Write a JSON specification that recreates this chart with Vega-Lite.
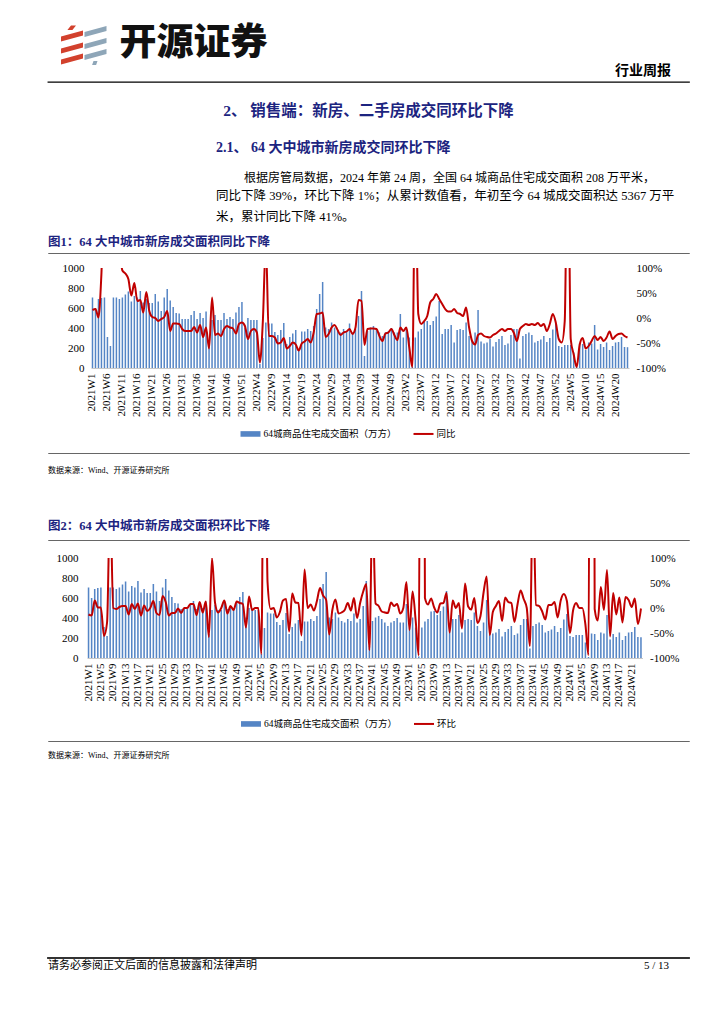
{
"$schema":"https://vega.github.io/schema/vega-lite/v6.json",
"background":"white",
"padding":{"left":47,"top":22,"right":10,"bottom":10},
"spacing":0,
"resolve":{"scale":{"color":"independent","shape":"independent"},"legend":{"color":"independent","shape":"independent"}},
"config":{"view":{"stroke":null},"font":"Liberation Serif, Noto Sans CJK SC",
"axis":{"labelFont":"Liberation Serif, Noto Sans CJK SC","labelFontSize":11,"labelColor":"#000","ticks":false,"grid":false,"title":null,"domain":false},
"title":{"baseline":"alphabetic","anchor":"start","frame":"group"}},
"datasets":{"d":[
{"w":"2021W1","a":705,"y":16,"m":-13},{"w":"2021W2","a":600,"y":18,"m":-15},{"w":"2021W3","a":690,"y":1,"m":15},{"w":"2021W4","a":700,"y":90,"m":1},{"w":"2021W5","a":705,"y":250,"m":1},{"w":"2021W6","a":310,"y":350,"m":-56},{"w":"2021W7","a":220,"y":400,"m":-29},{"w":"2021W8","a":705,"y":300,"m":220},{"w":"2021W9","a":705,"y":250,"m":0},{"w":"2021W10","a":690,"y":150,"m":-2},
{"w":"2021W11","a":705,"y":95,"m":2},{"w":"2021W12","a":735,"y":89,"m":4},{"w":"2021W13","a":765,"y":78,"m":4},{"w":"2021W14","a":665,"y":45,"m":-13},{"w":"2021W15","a":720,"y":70,"m":8},{"w":"2021W16","a":705,"y":34,"m":-2},{"w":"2021W17","a":770,"y":36,"m":9},{"w":"2021W18","a":655,"y":11,"m":-15},{"w":"2021W19","a":690,"y":52,"m":5},{"w":"2021W20","a":650,"y":14,"m":-6},
{"w":"2021W21","a":650,"y":2,"m":0},{"w":"2021W22","a":740,"y":0,"m":14},{"w":"2021W23","a":665,"y":-6,"m":-10},{"w":"2021W24","a":570,"y":-2,"m":-14},{"w":"2021W25","a":705,"y":2,"m":24},{"w":"2021W26","a":790,"y":14,"m":12},{"w":"2021W27","a":675,"y":-26,"m":-15},{"w":"2021W28","a":610,"y":-11,"m":-10},{"w":"2021W29","a":550,"y":-11,"m":-10},{"w":"2021W30","a":545,"y":-12,"m":-1},
{"w":"2021W31","a":490,"y":-22,"m":-10},{"w":"2021W32","a":490,"y":-26,"m":0},{"w":"2021W33","a":490,"y":-26,"m":0},{"w":"2021W34","a":530,"y":-26,"m":8},{"w":"2021W35","a":570,"y":-18,"m":8},{"w":"2021W36","a":490,"y":-29,"m":-14},{"w":"2021W37","a":550,"y":-14,"m":12},{"w":"2021W38","a":500,"y":-38,"m":-9},{"w":"2021W39","a":565,"y":-19,"m":13},{"w":"2021W40","a":240,"y":-61,"m":-58},
{"w":"2021W41","a":480,"y":41,"m":100},{"w":"2021W42","a":530,"y":-34,"m":10},{"w":"2021W43","a":480,"y":-31,"m":-9},{"w":"2021W44","a":480,"y":-36,"m":0},{"w":"2021W45","a":550,"y":-22,"m":15},{"w":"2021W46","a":490,"y":-16,"m":-11},{"w":"2021W47","a":510,"y":-19,"m":4},{"w":"2021W48","a":490,"y":-21,"m":-4},{"w":"2021W49","a":555,"y":-31,"m":13},{"w":"2021W50","a":610,"y":-12,"m":10},
{"w":"2021W51","a":660,"y":-9,"m":8},{"w":"2021W52","a":405,"y":-16,"m":-39},{"w":"2022W1","a":500,"y":-42,"m":23},{"w":"2022W2","a":480,"y":-26,"m":-4},{"w":"2022W3","a":480,"y":-22,"m":0},{"w":"2022W4","a":480,"y":-29,"m":0},{"w":"2022W5","a":40,"y":-89,"m":-92},{"w":"2022W6","a":300,"y":-6,"m":650},{"w":"2022W7","a":455,"y":150,"m":52},{"w":"2022W8","a":445,"y":-36,"m":-2},
{"w":"2022W9","a":445,"y":-36,"m":0},{"w":"2022W10","a":360,"y":-39,"m":-19},{"w":"2022W11","a":330,"y":-51,"m":-8},{"w":"2022W12","a":380,"y":-49,"m":15},{"w":"2022W13","a":450,"y":-40,"m":18},{"w":"2022W14","a":240,"y":-61,"m":-47},{"w":"2022W15","a":310,"y":-56,"m":29},{"w":"2022W16","a":345,"y":-49,"m":11},{"w":"2022W17","a":380,"y":-53,"m":10},{"w":"2022W18","a":170,"y":-65,"m":-55},
{"w":"2022W19","a":365,"y":-51,"m":77},{"w":"2022W20","a":365,"y":-47,"m":0},{"w":"2022W21","a":390,"y":-42,"m":7},{"w":"2022W22","a":370,"y":-49,"m":-5},{"w":"2022W23","a":420,"y":-29,"m":14},{"w":"2022W24","a":590,"y":8,"m":40},{"w":"2022W25","a":740,"y":9,"m":25},{"w":"2022W26","a":860,"y":11,"m":16},{"w":"2022W27","a":405,"y":-38,"m":-53},{"w":"2022W28","a":390,"y":-32,"m":-4},
{"w":"2022W29","a":455,"y":-19,"m":17},{"w":"2022W30","a":405,"y":-14,"m":-11},{"w":"2022W31","a":370,"y":-24,"m":-9},{"w":"2022W32","a":355,"y":-34,"m":-4},{"w":"2022W33","a":390,"y":-29,"m":10},{"w":"2022W34","a":370,"y":-27,"m":-5},{"w":"2022W35","a":445,"y":-22,"m":20},{"w":"2022W36","a":355,"y":-32,"m":-20},{"w":"2022W37","a":390,"y":-19,"m":10},{"w":"2022W38","a":520,"y":36,"m":33},
{"w":"2022W39","a":770,"y":34,"m":48},{"w":"2022W40","a":120,"y":-54,"m":-84},{"w":"2022W41","a":370,"y":-22,"m":208},{"w":"2022W42","a":405,"y":-21,"m":9},{"w":"2022W43","a":420,"y":-21,"m":4},{"w":"2022W44","a":390,"y":-22,"m":-7},{"w":"2022W45","a":355,"y":-36,"m":-9},{"w":"2022W46","a":320,"y":-46,"m":-10},{"w":"2022W47","a":355,"y":-31,"m":11},{"w":"2022W48","a":370,"y":-29,"m":4},
{"w":"2022W49","a":400,"y":-22,"m":8},{"w":"2022W50","a":355,"y":-34,"m":-11},{"w":"2022W51","a":355,"y":-44,"m":0},{"w":"2022W52","a":540,"y":-19,"m":52},{"w":"2023W1","a":305,"y":-26,"m":-44},{"w":"2023W2","a":405,"y":-19,"m":33},{"w":"2023W3","a":305,"y":-59,"m":-25},{"w":"2023W4","a":15,"y":-98,"m":-95},{"w":"2023W5","a":305,"y":300,"m":1900},{"w":"2023W6","a":365,"y":8,"m":20},
{"w":"2023W7","a":390,"y":-12,"m":7},{"w":"2023W8","a":465,"y":-6,"m":19},{"w":"2023W9","a":470,"y":4,"m":1},{"w":"2023W10","a":430,"y":31,"m":-9},{"w":"2023W11","a":470,"y":38,"m":9},{"w":"2023W12","a":515,"y":48,"m":10},{"w":"2023W13","a":670,"y":38,"m":30},{"w":"2023W14","a":340,"y":28,"m":-49},{"w":"2023W15","a":390,"y":18,"m":15},{"w":"2023W16","a":390,"y":13,"m":0},
{"w":"2023W17","a":430,"y":13,"m":10},{"w":"2023W18","a":255,"y":18,"m":-41},{"w":"2023W19","a":380,"y":10,"m":49},{"w":"2023W20","a":390,"y":8,"m":3},{"w":"2023W21","a":380,"y":4,"m":-3},{"w":"2023W22","a":455,"y":21,"m":20},{"w":"2023W23","a":320,"y":-19,"m":-30},{"w":"2023W24","a":270,"y":-46,"m":-16},{"w":"2023W25","a":355,"y":-53,"m":31},{"w":"2023W26","a":580,"y":-34,"m":63},
{"w":"2023W27","a":265,"y":-31,"m":-54},{"w":"2023W28","a":245,"y":-36,"m":-8},{"w":"2023W29","a":255,"y":-38,"m":4},{"w":"2023W30","a":290,"y":-39,"m":14},{"w":"2023W31","a":215,"y":-34,"m":-26},{"w":"2023W32","a":260,"y":-31,"m":21},{"w":"2023W33","a":290,"y":-26,"m":12},{"w":"2023W34","a":320,"y":-22,"m":10},{"w":"2023W35","a":230,"y":-26,"m":-28},{"w":"2023W36","a":245,"y":-22,"m":7},
{"w":"2023W37","a":330,"y":-22,"m":35},{"w":"2023W38","a":390,"y":-30,"m":18},{"w":"2023W39","a":390,"y":-46,"m":0},{"w":"2023W40","a":95,"y":-22,"m":-76},{"w":"2023W41","a":320,"y":-16,"m":237},{"w":"2023W42","a":340,"y":-12,"m":6},{"w":"2023W43","a":355,"y":-14,"m":4},{"w":"2023W44","a":330,"y":-12,"m":-7},{"w":"2023W45","a":255,"y":-14,"m":-23},{"w":"2023W46","a":270,"y":-10,"m":6},
{"w":"2023W47","a":285,"y":-16,"m":6},{"w":"2023W48","a":320,"y":-12,"m":12},{"w":"2023W49","a":260,"y":-26,"m":-19},{"w":"2023W50","a":300,"y":-12,"m":15},{"w":"2023W51","a":385,"y":8,"m":28},{"w":"2023W52","a":440,"y":-9,"m":14},{"w":"2024W1","a":220,"y":-42,"m":-50},{"w":"2024W2","a":210,"y":-49,"m":-5},{"w":"2024W3","a":230,"y":-6,"m":10},{"w":"2024W4","a":230,"y":400,"m":0},
{"w":"2024W5","a":230,"y":-42,"m":0},{"w":"2024W6","a":155,"y":-73,"m":-33},{"w":"2024W7","a":10,"y":-98,"m":-94},{"w":"2024W8","a":245,"y":-53,"m":2350},{"w":"2024W9","a":240,"y":-40,"m":-2},{"w":"2024W10","a":180,"y":-61,"m":-25},{"w":"2024W11","a":255,"y":-56,"m":42},{"w":"2024W12","a":245,"y":-46,"m":-4},{"w":"2024W13","a":430,"y":-36,"m":76},{"w":"2024W14","a":185,"y":-44,"m":-57},
{"w":"2024W15","a":240,"y":-38,"m":30},{"w":"2024W16","a":210,"y":-46,"m":-13},{"w":"2024W17","a":255,"y":-39,"m":21},{"w":"2024W18","a":180,"y":-27,"m":-29},{"w":"2024W19","a":220,"y":-42,"m":22},{"w":"2024W20","a":255,"y":-36,"m":16},{"w":"2024W21","a":260,"y":-32,"m":2},{"w":"2024W22","a":310,"y":-31,"m":19},{"w":"2024W23","a":210,"y":-36,"m":-32},{"w":"2024W24","a":208,"y":-39,"m":-1}
]},
"vconcat":[
{"width":641,"height":59,"data":{"values":[{"c":"r"},{"c":"g"}]},
 "mark":{"type":"point","filled":true,"opacity":0},
 "encoding":{
  "color":{"field":"c","type":"nominal","sort":null,"scale":{"domain":["r","g"],"range":["#d2412d","#8ea6b8"]},
    "legend":{"orient":"none","legendX":0,"legendY":2,"direction":"horizontal","title":null,"labelExpr":"datum.value === 'g' ? '开源证券' : ''","labelFont":"Noto Sans CJK SC","labelFontSize":37,"labelFontWeight":900,"labelColor":"#111","labelLimit":0,"symbolSize":1600,"columnPadding":0,"labelOffset":-4.5,"padding":0,"symbolStrokeWidth":0,
      "encode":{"symbols":{"update":{"opacity":{"value":1},"fillOpacity":{"value":1},"strokeWidth":{"value":0}}},"labels":{"update":{"opacity":{"value":1}}}}}},
  "shape":{"field":"c","type":"nominal","sort":null,"scale":{"domain":["r","g"],"range":["M0.15,-0.95L0.4,-0.95L0.22,-0.72L-0.03,-0.72Z M-0.35,-0.4L0.75,-0.7L0.75,-0.45L-0.35,-0.15Z M-0.35,0.2L0.75,-0.1L0.75,0.15L-0.35,0.45Z M-0.35,0.75L0.75,0.45L0.75,0.7L-0.35,1.0Z","M-0.975,-0.6L0.125,-0.9L0.125,-0.65L-0.975,-0.35Z M-0.975,0.0L0.125,-0.3L0.125,-0.05L-0.975,0.25Z M-0.975,0.55L0.125,0.25L0.125,0.5L-0.975,0.8Z M-0.525,0.85L-0.325,0.85L-0.395,1.05L-0.595,1.05Z"]}}
 },
 "title":{"text":"行业周报","anchor":"end","dx":-18,"offset":-56,"fontSize":14,"fontWeight":"bold","font":"Noto Sans CJK SC","color":"#000"}
},
{"width":641,"height":0.01,"data":{"values":[]},"mark":{"type":"point","opacity":0},"encoding":{},"view":{"stroke":"#000","strokeWidth":1.3}},
{"width":641,"height":40,"data":{"values":[]},"mark":{"type":"point","opacity":0},"encoding":{},
 "title":{"text":"2、 销售端：新房、二手房成交同环比下降","anchor":"middle","offset":-36.5,"fontSize":15.5,"fontWeight":"bold","color":"#1c2480"}},
{"width":641,"height":35,"data":{"values":[]},"mark":{"type":"point","opacity":0},"encoding":{},
 "title":{"text":"2.1、 64 大中城市新房成交同环比下降","dx":168,"offset":-31.6,"fontSize":14,"fontWeight":"bold","color":"#1c2480"}},
{"width":641,"height":30,"data":{"values":[]},"mark":{"type":"point","opacity":0},"encoding":{},
 "title":{"text":"根据房管局数据，2024 年第 24 周，全国 64 城商品住宅成交面积 208 万平米，","dx":196,"offset":-27,"fontSize":12,"fontWeight":"normal","color":"#000"}},
{"width":641,"height":20.5,"data":{"values":[]},"mark":{"type":"point","opacity":0},"encoding":{},
 "title":{"text":"同比下降 39%，环比下降 1%；从累计数值看，年初至今 64 城成交面积达 5367 万平","dx":168,"offset":-14.7,"fontSize":12.5,"fontWeight":"normal","color":"#000"}},
{"width":641,"height":21,"data":{"values":[]},"mark":{"type":"point","opacity":0},"encoding":{},
 "title":{"text":"米，累计同比下降 41%。","dx":168,"offset":-14.7,"fontSize":12.5,"fontWeight":"normal","color":"#000"}},
{"width":641,"height":21.5,"data":{"values":[]},"mark":{"type":"point","opacity":0},"encoding":{},
 "title":{"text":"图1：64 大中城市新房成交面积同比下降","offset":-18.5,"fontSize":12.5,"fontWeight":"bold","color":"#1c2480"}},
{"width":641,"height":0.01,"data":{"values":[]},"mark":{"type":"point","opacity":0},"encoding":{},"view":{"stroke":"#666","strokeWidth":1}},
{"width":641,"height":7.6,"data":{"values":[]},"mark":{"type":"point","opacity":0},"encoding":{}},
{"hconcat":[
{"width":0.01,"height":0.01,"data":{"values":[]},"mark":{"type":"point","opacity":0},"encoding":{}},
{"width":538,"height":100,"data":{"name":"d"},
 "encoding":{"x":{"field":"w","type":"ordinal","sort":null,"scale":{"paddingInner":0.5,"paddingOuter":0.25},
   "axis":{"values":["2021W1","2021W6","2021W11","2021W16","2021W21","2021W26","2021W31","2021W36","2021W41","2021W46","2021W51","2022W4","2022W9","2022W14","2022W19","2022W24","2022W29","2022W34","2022W39","2022W44","2022W49","2023W2","2023W7","2023W12","2023W17","2023W22","2023W27","2023W32","2023W37","2023W42","2023W47","2023W52","2024W5","2024W10","2024W15","2024W20"],
   "labelAngle":-90,"labelAlign":"right","labelBaseline":"middle","labelPadding":5,"domain":true,"domainColor":"#c8c8c8"}}},
 "layer":[
  {"mark":{"type":"bar"},
   "encoding":{"y":{"field":"a","type":"quantitative","scale":{"domain":[0,1000]},"axis":{"orient":"left","values":[0,200,400,600,800,1000],"format":"d","labelPadding":7,"minExtent":41.5}},
     "color":{"datum":"64城商品住宅成交面积（万方）","type":"nominal","scale":{"domain":["64城商品住宅成交面积（万方）","同比"],"range":["#5585c5","#c00000"]},
       "legend":{"orient":"none","legendX":192.5,"legendY":155.7,"direction":"horizontal","title":null,"labelFont":"Liberation Serif, Noto Sans CJK SC","labelFontSize":9.5,"labelColor":"#000","symbolSize":400,"columnPadding":16,"labelOffset":3,"padding":0,
         "encode":{"symbols":{"update":{"shape":{"signal":"datum.value === '同比' ? 'M-1,-0.1H1V0.1H-1Z' : 'M-1,-0.28H1V0.28H-1Z'"},"fill":{"signal":"datum.value === '同比' ? '#c00000' : '#4f81bd'"},"strokeWidth":{"value":0},"opacity":{"value":1}}}}}}}},
  {"mark":{"type":"line","clip":true,"strokeWidth":2,"interpolate":"monotone"},
   "encoding":{"y":{"field":"y","type":"quantitative","scale":{"domain":[-100,100]},"axis":{"orient":"right","values":[-100,-50,0,50,100],"labelExpr":"datum.value + '%'","labelPadding":7}},
     "color":{"datum":"同比","type":"nominal"}}}
 ],
 "resolve":{"scale":{"y":"independent"}}
}],"spacing":0},
{"width":641,"height":12.5,"data":{"values":[]},"mark":{"type":"point","opacity":0},"encoding":{}},
{"width":641,"height":0.01,"data":{"values":[]},"mark":{"type":"point","opacity":0},"encoding":{},"view":{"stroke":"#666","strokeWidth":1}},
{"width":641,"height":22.5,"data":{"values":[]},"mark":{"type":"point","opacity":0},"encoding":{},
 "title":{"text":"数据来源：Wind、开源证券研究所","offset":-20.5,"fontSize":8,"fontWeight":"normal","color":"#000"}},
{"width":641,"height":61.2,"data":{"values":[]},"mark":{"type":"point","opacity":0},"encoding":{},
 "title":{"text":"图2：64 大中城市新房成交面积环比下降","offset":-55.7,"fontSize":12.5,"fontWeight":"bold","color":"#1c2480"}},
{"width":641,"height":0.01,"data":{"values":[]},"mark":{"type":"point","opacity":0},"encoding":{},"view":{"stroke":"#666","strokeWidth":1}},
{"width":641,"height":10.8,"data":{"values":[]},"mark":{"type":"point","opacity":0},"encoding":{}},
{"hconcat":[
{"width":0.01,"height":0.01,"data":{"values":[]},"mark":{"type":"point","opacity":0},"encoding":{}},
{"width":555.5,"height":100,"data":{"name":"d"},
 "encoding":{"x":{"field":"w","type":"ordinal","sort":null,"scale":{"paddingInner":0.5,"paddingOuter":0.25},
   "axis":{"values":["2021W1","2021W5","2021W9","2021W13","2021W17","2021W21","2021W25","2021W29","2021W33","2021W37","2021W41","2021W45","2021W49","2022W1","2022W5","2022W9","2022W13","2022W17","2022W21","2022W25","2022W29","2022W33","2022W37","2022W41","2022W45","2022W49","2023W1","2023W5","2023W9","2023W13","2023W17","2023W21","2023W25","2023W29","2023W33","2023W37","2023W41","2023W45","2023W49","2024W1","2024W5","2024W9","2024W13","2024W17","2024W21"],
   "labelAngle":-90,"labelAlign":"right","labelBaseline":"middle","labelPadding":5,"domain":true,"domainColor":"#c8c8c8"}}},
 "layer":[
  {"mark":{"type":"bar"},
   "encoding":{"y":{"field":"a","type":"quantitative","scale":{"domain":[0,1000]},"axis":{"orient":"left","values":[0,200,400,600,800,1000],"format":"d","labelPadding":9,"minExtent":38}},
     "color":{"datum":"64城商品住宅成交面积（万方）","type":"nominal","scale":{"domain":["64城商品住宅成交面积（万方）","环比"],"range":["#5585c5","#c00000"]},
       "legend":{"orient":"none","legendX":193,"legendY":155.7,"direction":"horizontal","title":null,"labelFont":"Liberation Serif, Noto Sans CJK SC","labelFontSize":9.5,"labelColor":"#000","symbolSize":400,"columnPadding":16,"labelOffset":3,"padding":0,
         "encode":{"symbols":{"update":{"shape":{"signal":"datum.value === '环比' ? 'M-1,-0.1H1V0.1H-1Z' : 'M-1,-0.28H1V0.28H-1Z'"},"fill":{"signal":"datum.value === '环比' ? '#c00000' : '#4f81bd'"},"strokeWidth":{"value":0},"opacity":{"value":1}}}}}}}},
  {"mark":{"type":"line","clip":true,"strokeWidth":2,"interpolate":"monotone"},
   "encoding":{"y":{"field":"m","type":"quantitative","scale":{"domain":[-100,100]},"axis":{"orient":"right","values":[-100,-50,0,50,100],"labelExpr":"datum.value + '%'","labelPadding":7}},
     "color":{"datum":"环比","type":"nominal"}}}
 ],
 "resolve":{"scale":{"y":"independent"}}
}],"spacing":0},
{"width":641,"height":10.5,"data":{"values":[]},"mark":{"type":"point","opacity":0},"encoding":{}},
{"width":641,"height":0.01,"data":{"values":[]},"mark":{"type":"point","opacity":0},"encoding":{},"view":{"stroke":"#666","strokeWidth":1}},
{"width":641,"height":20.5,"data":{"values":[]},"mark":{"type":"point","opacity":0},"encoding":{},
 "title":{"text":"数据来源：Wind、开源证券研究所","offset":-18,"fontSize":8,"fontWeight":"normal","color":"#000"}},
{"width":641,"height":194,"data":{"values":[]},"mark":{"type":"point","opacity":0},"encoding":{}},
{"width":641,"height":0.01,"data":{"values":[]},"mark":{"type":"point","opacity":0},"encoding":{},"view":{"stroke":"#333","strokeWidth":1.8}},
{"hconcat":[
 {"width":320,"height":16,"data":{"values":[]},"mark":{"type":"point","opacity":0},"encoding":{},
  "title":{"text":"请务必参阅正文后面的信息披露和法律声明","offset":-12,"fontSize":11,"fontWeight":"normal","color":"#000"}},
 {"width":321,"height":16,"data":{"values":[]},"mark":{"type":"point","opacity":0},"encoding":{},
  "title":{"text":"5 / 13","anchor":"end","dx":-20,"offset":-12,"fontSize":11,"fontWeight":"normal","color":"#000"}}
],"spacing":0}
]
}
